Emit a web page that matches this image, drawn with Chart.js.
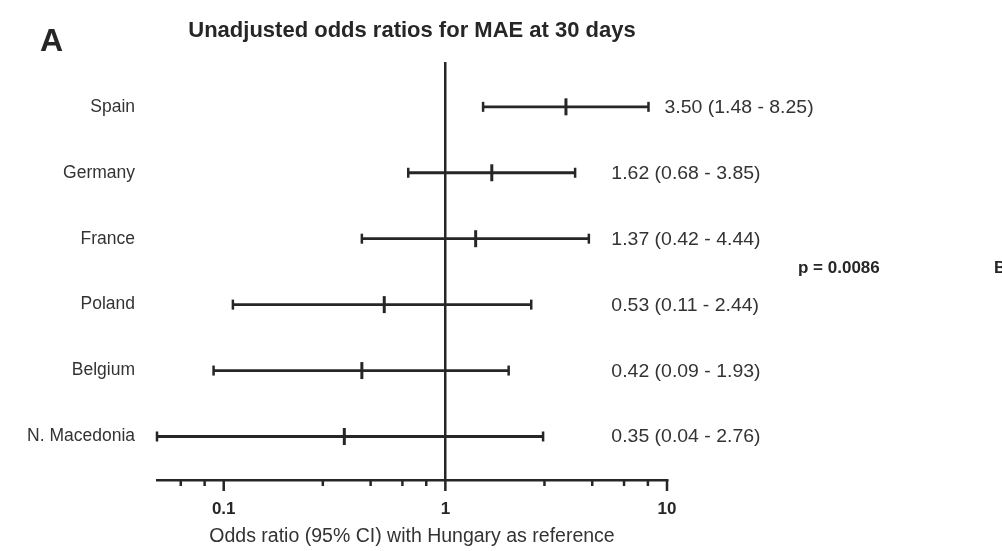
<!DOCTYPE html>
<html>
<head>
<meta charset="utf-8">
<script src="https://cdn.jsdelivr.net/npm/chart.js@4/dist/chart.umd.min.js"></script>
<style>
  body { margin: 0; background: #fff; }
  canvas { display: block; }
</style>
</head>
<body>
<canvas id="chart" width="1002" height="551"></canvas>
<script>
// forest plot data
const countries = ['Spain', 'Germany', 'France', 'Poland', 'Belgium', 'N. Macedonia'];
const oddsRatio = [3.50, 1.62, 1.37, 0.53, 0.42, 0.35];
const ciLow = [1.48, 0.68, 0.42, 0.11, 0.09, 0.04];
const ciHigh = [8.25, 3.85, 4.44, 2.44, 1.93, 2.76];

const xMin = 0.05, xMax = 10;
const xTicks = [0.064, 0.082, 0.1, 0.28, 0.46, 0.64, 0.82, 1, 2.8, 4.6, 6.4, 8.2, 10];
const majorTicks = [0.1, 1, 10];
const majorLabels = ['0.1', '1', '10'];

const titleText = 'Unadjusted odds ratios for MAE at 30 days';
const xTitle = 'Odds ratio (95% CI) with Hungary as reference';
const pValue = 'p = 0.0086';

const ink = '#262626';
const FONT = '"Liberation Sans", Arial, sans-serif';

const datasets = countries.map((c, i) => ({
    label: c,
    showLine: true,
    data: [{ x: Math.max(ciLow[i], xMin), y: i }, { x: ciHigh[i], y: i }],
    borderColor: ink,
    borderWidth: 2.8,
    pointStyle: 'line',
    pointRotation: 90,
    pointRadius: 5,
    pointBorderWidth: 2.5,
    pointBorderColor: ink,
    clip: false
}));
datasets.push({
    label: 'OR',
    data: oddsRatio.map((v, i) => ({ x: v, y: i })),
    pointStyle: 'line',
    pointRotation: 90,
    pointRadius: 8.5,
    pointBorderWidth: 3,
    pointBorderColor: ink,
    clip: false
});

// draws stretched text (the figure's text runs a bit wide)
function wideText(ctx, txt, x, y, sx) {
    ctx.save();
    ctx.translate(x, y);
    ctx.scale(sx, 1);
    ctx.fillText(txt, 0, 0);
    ctx.restore();
}

const textPlugin = {
    id: 'texts',
    afterDraw(chart) {
        const ctx = chart.ctx;
        const xs = chart.scales.x, ys = chart.scales.y;
        const area = chart.chartArea;
        ctx.save();

        // minor / major tick marks
        ctx.strokeStyle = ink;
        ctx.lineWidth = 2.5;
        xs.ticks.forEach(t => {
            const px = xs.getPixelForValue(t.value);
            const len = majorTicks.includes(t.value) ? 11 : 6;
            ctx.beginPath();
            ctx.moveTo(px, area.bottom);
            ctx.lineTo(px, area.bottom + len);
            ctx.stroke();
        });

        ctx.fillStyle = ink;
        ctx.textBaseline = 'middle';
        ctx.font = 'bold 32px ' + FONT;
        ctx.textAlign = 'left';
        ctx.fillText('A', 40, 42);

        ctx.font = 'bold 22px ' + FONT;
        ctx.textAlign = 'center';
        ctx.fillText(titleText, (area.left + area.right) / 2, 31);

        // estimate + CI text next to each row
        ctx.font = '18px ' + FONT;
        ctx.fillStyle = '#333';
        ctx.textAlign = 'left';
        const colX = xs.getPixelForValue(1) + 166;
        countries.forEach((c, i) => {
            const txt = oddsRatio[i].toFixed(2) + ' (' + ciLow[i].toFixed(2) + ' - ' + ciHigh[i].toFixed(2) + ')';
            const tx = Math.max(colX, xs.getPixelForValue(ciHigh[i]) + 16);
            wideText(ctx, txt, tx, ys.getPixelForValue(i) + 1, 1.08);
        });

        ctx.font = 'bold 17px ' + FONT;
        ctx.fillStyle = ink;
        ctx.fillText(pValue, area.right + 131, 268);
        ctx.fillText('B', 994, 268);
        ctx.restore();
    }
};

new Chart(document.getElementById('chart'), {
    type: 'scatter',
    data: { datasets: datasets },
    options: {
        responsive: false,
        animation: false,
        layout: { padding: { top: 62, right: 335, left: 0, bottom: 0 } },
        plugins: { legend: { display: false }, tooltip: { enabled: false } },
        scales: {
            x: {
                type: 'logarithmic',
                min: xMin,
                max: xMax,
                afterBuildTicks: s => { s.ticks = xTicks.map(v => ({ value: v })); },
                afterFit: s => { s.height = 71; },
                grid: {
                    drawTicks: false,
                    color: c => (c.tick && c.tick.value === 1) ? ink : 'rgba(0,0,0,0)',
                    lineWidth: 2.5
                },
                border: { display: true, color: ink, width: 2.5 },
                ticks: {
                    autoSkip: false,
                    maxRotation: 0,
                    padding: 19,
                    color: ink,
                    font: { family: FONT, size: 17, weight: 'bold' },
                    callback: v => {
                        const k = majorTicks.indexOf(v);
                        return k >= 0 ? majorLabels[k] : '';
                    }
                },
                title: {
                    display: true,
                    text: xTitle,
                    color: '#333',
                    font: { family: FONT, size: 19.5 },
                    padding: { top: 0, bottom: 3 }
                }
            },
            y: {
                type: 'linear',
                reverse: true,
                min: -0.68,
                max: 5.66,
                afterBuildTicks: s => { s.ticks = countries.map((c, i) => ({ value: i })); },
                afterFit: s => { s.width = 157; },
                grid: { display: false },
                border: { display: false },
                ticks: {
                    padding: 14,
                    color: '#333',
                    font: { family: FONT, size: 17.5 },
                    callback: v => countries[v]
                }
            }
        }
    },
    plugins: [textPlugin]
});
</script>
</body>
</html>
